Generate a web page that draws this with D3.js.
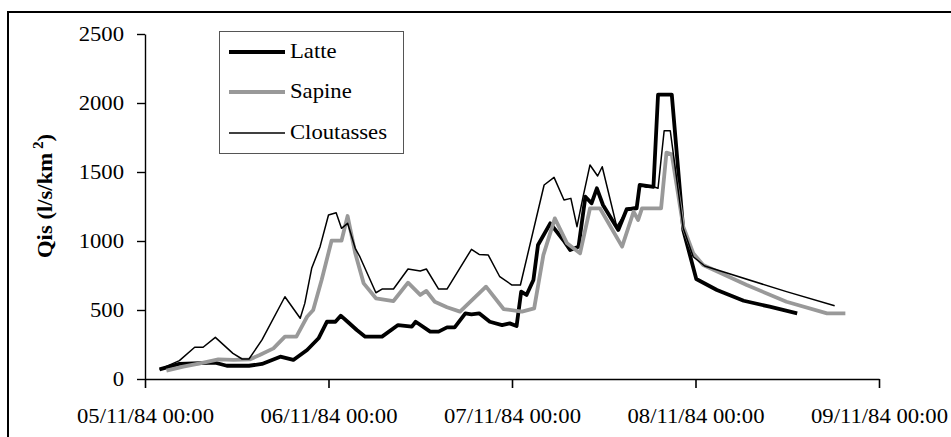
<!DOCTYPE html>
<html>
<head>
<meta charset="utf-8">
<script src="https://cdn.jsdelivr.net/npm/d3@7/dist/d3.min.js"></script>
<style>
  html, body { margin: 0; padding: 0; background: #fff; }
  svg { display: block; }
  text { font-family: "Liberation Serif", "Times New Roman", serif; fill: #000; }
</style>
</head>
<body>
<svg id="chart" width="951" height="437"></svg>
<script>
// ---- Data (hours after 05/11/84 00:00, value in l/s/km²) ----
const seriesNames = ["Latte", "Sapine", "Cloutasses"];

const latteHours = [1.9,4.5,9.2,10.7,13.6,15.3,17.7,19.4,21.2,22.7,23.8,24.9,25.6,26.5,27.7,28.8,31.0,33.1,34.9,35.4,37.3,38.4,39.5,40.5,41.9,42.7,43.7,45.1,46.7,47.7,48.6,49.2,49.9,50.8,51.4,53.0,54.7,55.6,56.7,57.6,58.4,59.1,59.9,61.9,63.0,64.3,64.7,66.5,67.1,68.9,70.4,72.1,74.8,78.3,81.7,85.3];
const latteValues = [70,109,118,96,96,109,162,138,210,295,415,415,459,415,355,307,307,391,379,415,343,343,374,374,476,469,476,415,391,403,384,633,609,717,971,1128,1007,935,959,1321,1273,1382,1261,1080,1230,1237,1406,1393,2060,2060,1080,725,645,567,524,476];

const sapineHours = [2.8,5.0,7.2,9.6,11.6,13.7,15.0,16.8,18.3,19.8,21.2,22.0,23.1,24.4,25.7,26.5,27.5,28.6,30.2,32.5,34.4,36.0,36.8,37.9,39.5,41.2,44.6,46.9,49.3,50.9,52.1,53.6,55.2,56.9,58.2,59.5,62.4,63.9,64.5,65.0,67.5,68.2,68.9,70.4,71.7,73.0,78.7,83.9,89.2,91.6];
const sapineValues = [60,89,113,142,138,142,174,222,307,307,451,500,717,1002,1002,1181,911,693,585,565,698,609,638,560,520,488,669,507,488,512,898,1164,983,911,1237,1237,959,1212,1152,1237,1237,1640,1628,1104,911,826,681,560,476,476];

const cloutHours = [1.9,4.5,6.5,7.6,9.2,11.5,12.7,13.6,15.3,18.3,20.3,20.9,21.8,22.9,24.0,25.0,25.7,26.5,27.5,28.1,30.2,31.0,32.5,34.4,36.0,36.8,38.4,39.5,42.7,43.7,44.9,46.4,48.0,49.1,52.2,53.5,54.8,55.7,56.5,57.3,58.2,59.2,59.8,61.7,63.2,64.3,64.7,65.6,66.5,67.1,67.9,68.7,70.4,71.7,73.2,83.9,90.2];
const cloutValues = [70,133,230,230,302,186,145,145,283,596,440,548,802,959,1188,1205,1092,1128,947,886,625,652,652,797,783,797,652,652,940,903,898,741,681,681,1406,1461,1297,1309,1104,1321,1551,1471,1538,1104,1237,1249,1406,1389,1393,1382,1799,1799,1092,886,819,633,531];

const yTicks = [0, 500, 1000, 1500, 2000, 2500];
const xTickLabels = ["05/11/84 00:00", "06/11/84 00:00", "07/11/84 00:00", "08/11/84 00:00", "09/11/84 00:00"];
const yTitle = "Qis (l/s/km";

// ---- Setup ----
const base = new Date(1984, 10, 5, 0, 0);
const toDate = h => new Date(base.getTime() + h * 3600e3);
const xTickDates = xTickLabels.map((_, i) => toDate(24 * i));

const svg = d3.select("#chart");
const S = 1.08; // horizontal text stretch

// outer frame
svg.append("rect")
  .attr("x", 8).attr("y", 12).attr("width", 960).attr("height", 440)
  .attr("fill", "none").attr("stroke", "#000").attr("stroke-width", 2);

const x = d3.scaleTime().domain([toDate(0), toDate(96)]).range([145, 879]);
const y = d3.scaleLinear().domain([0, 2500]).range([379, 34]);

// Y axis
const yAxis = svg.append("g")
  .attr("transform", "translate(145,0)")
  .call(d3.axisLeft(y).tickValues(yTicks).tickSize(8).tickSizeOuter(0).tickFormat(d3.format("d")));
yAxis.select(".domain").attr("stroke", "#000").attr("stroke-width", 1.4);
yAxis.selectAll(".tick line").attr("stroke", "#000").attr("stroke-width", 1.4);
yAxis.selectAll(".tick text")
  .attr("x", 0)
  .attr("transform", `translate(-21,0) scale(${S},1)`)
  .style("font-size", "21px")
  .style("font-family", "'Liberation Serif', serif");

// X axis
const xAxis = svg.append("g")
  .attr("transform", "translate(0,379)")
  .call(d3.axisBottom(x).tickValues(xTickDates).tickSize(9).tickSizeOuter(0).tickFormat((d, i) => xTickLabels[i]));
xAxis.select(".domain").attr("stroke", "#000").attr("stroke-width", 1.4);
xAxis.selectAll(".tick line").attr("stroke", "#000").attr("stroke-width", 1.6);
xAxis.selectAll(".tick text")
  .attr("y", 0).attr("dy", null)
  .attr("transform", `translate(0,44) scale(${S},1)`)
  .style("font-size", "21px")
  .style("font-family", "'Liberation Serif', serif");

// Y title
const yt = svg.append("text")
  .attr("transform", `translate(52,196) rotate(-90) scale(${S},1)`)
  .attr("text-anchor", "middle")
  .style("font-size", "21px")
  .style("font-weight", "bold");
yt.append("tspan").text(yTitle);
yt.append("tspan").attr("dy", -9).style("font-size", "14px").text(" 2");
yt.append("tspan").attr("dy", 9).text(")");

// Lines
const line = d3.line().x(d => x(toDate(d[0]))).y(d => y(d[1]));
const series = [
  { name: seriesNames[0], hours: latteHours, values: latteValues, color: "#000", width: 3.8 },
  { name: seriesNames[1], hours: sapineHours, values: sapineValues, color: "#999", width: 3.8 },
  { name: seriesNames[2], hours: cloutHours, values: cloutValues, color: "#000", width: 1.5 }
];
series.forEach(s => {
  svg.append("path")
    .datum(s.hours.map((h, i) => [h, s.values[i]]))
    .attr("d", line)
    .attr("fill", "none")
    .attr("stroke", s.color)
    .attr("stroke-width", s.width)
    .attr("stroke-linejoin", "round");
});

// Legend
const lg = svg.append("g");
lg.append("rect")
  .attr("x", 219.5).attr("y", 31.5).attr("width", 184).attr("height", 122)
  .attr("fill", "#fff").attr("stroke", "#555").attr("stroke-width", 1);
const legY = [52, 92, 133];
series.forEach((s, i) => {
  lg.append("line")
    .attr("x1", 229).attr("x2", 285).attr("y1", legY[i]).attr("y2", legY[i])
    .attr("stroke", s.color).attr("stroke-width", s.width);
  lg.append("text")
    .attr("transform", `translate(290,${legY[i] + 5.5}) scale(${S},1)`)
    .style("font-size", "21px")
    .text(s.name);
});
</script>
</body>
</html>
